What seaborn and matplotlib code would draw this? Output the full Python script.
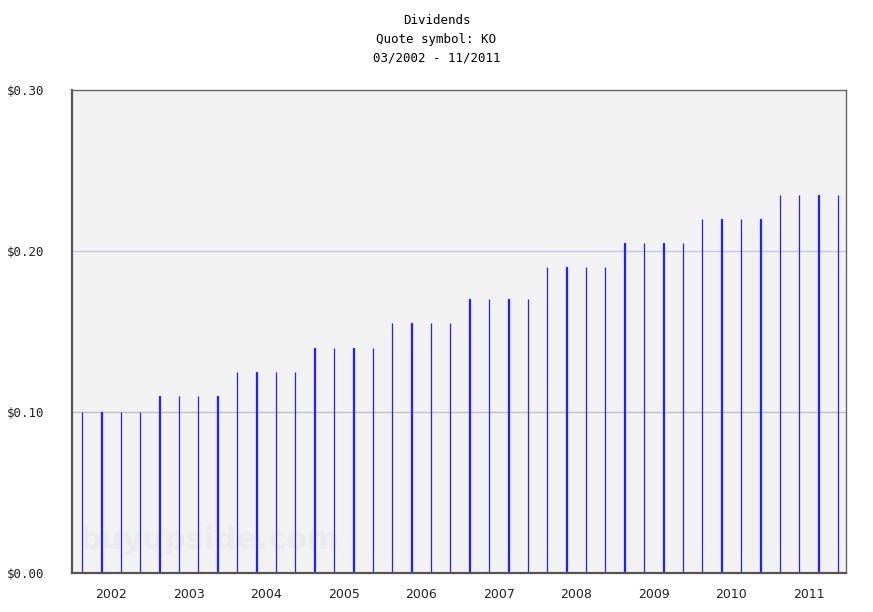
import numpy as np
import pandas as pd
import matplotlib
matplotlib.use("Agg")
import matplotlib.pyplot as plt
import seaborn as sns

# quarterly dividends, KO 03/2002 - 11/2011
years = [2002, 2003, 2004, 2005, 2006, 2007, 2008, 2009, 2010, 2011]
quarter_dividends = [0.10, 0.11, 0.125, 0.14, 0.155, 0.17, 0.19, 0.205, 0.22, 0.235]
quarters_per_year = 4
y_ticks = [0.0, 0.1, 0.2, 0.3]
y_tick_labels = ["$0.00", "$0.10", "$0.20", "$0.30"]

payments = []
for yr, amt in zip(years, quarter_dividends):
    for q in range(quarters_per_year):
        payments.append({"payment": f"{yr}-Q{q + 1}", "dividend": amt})
df = pd.DataFrame(payments)

sns.set_style("white")
fig = plt.figure(figsize=(8.73, 6.12), dpi=100)
ax = fig.add_axes([72 / 873, 1 - 573 / 612, 774 / 873, 483 / 612])
ax.set_facecolor("#f2f2f2")

# gridlines
for yv, col in [(0.1, "#c0c0c8"), (0.2, "#c8c8e8")]:
    ax.axhline(yv, color=col, lw=1, zorder=0)

# watermark
ax.text(0.01, 0.05, "buyupside.com", transform=ax.transAxes, fontsize=22,
        fontweight="bold", color="#ebebeb", family="DejaVu Sans", zorder=0.5)

bar_color = "#2222ff"
sns.barplot(data=df, x="payment", y="dividend", color=bar_color, saturation=1,
            width=0.02, linewidth=0.9, edgecolor=bar_color, ax=ax, zorder=2)

ax.set_xlim(-0.516, 39.42)
ax.set_ylim(0, 0.3)
ax.set_xlabel("")
ax.set_ylabel("")

centers = [quarters_per_year * i + 1.5 for i in range(len(years))]
ax.set_xticks(centers)
ax.set_xticklabels([str(y) for y in years], fontsize=9, color="#222222")
ax.set_yticks(y_ticks)
ax.set_yticklabels(y_tick_labels, fontsize=9, color="#222222", family="DejaVu Sans Mono")
ax.tick_params(axis="x", length=0, pad=11)
ax.tick_params(axis="y", length=0, pad=20)

for side in ["left", "bottom"]:
    ax.spines[side].set_color("#555555")
    ax.spines[side].set_linewidth(1.6)
for side in ["top", "right"]:
    ax.spines[side].set_color("#666666")
    ax.spines[side].set_linewidth(1.0)
    ax.spines[side].set_visible(True)

for line_y, line_text in [(20, "Dividends"), (39, "Quote symbol: KO"), (58, "03/2002 - 11/2011")]:
    fig.text(0.5, 1 - line_y / 612, line_text, ha="center", va="center",
             fontsize=9, family="DejaVu Sans Mono", color="#000000")

fig.savefig("out.png", dpi=100)
